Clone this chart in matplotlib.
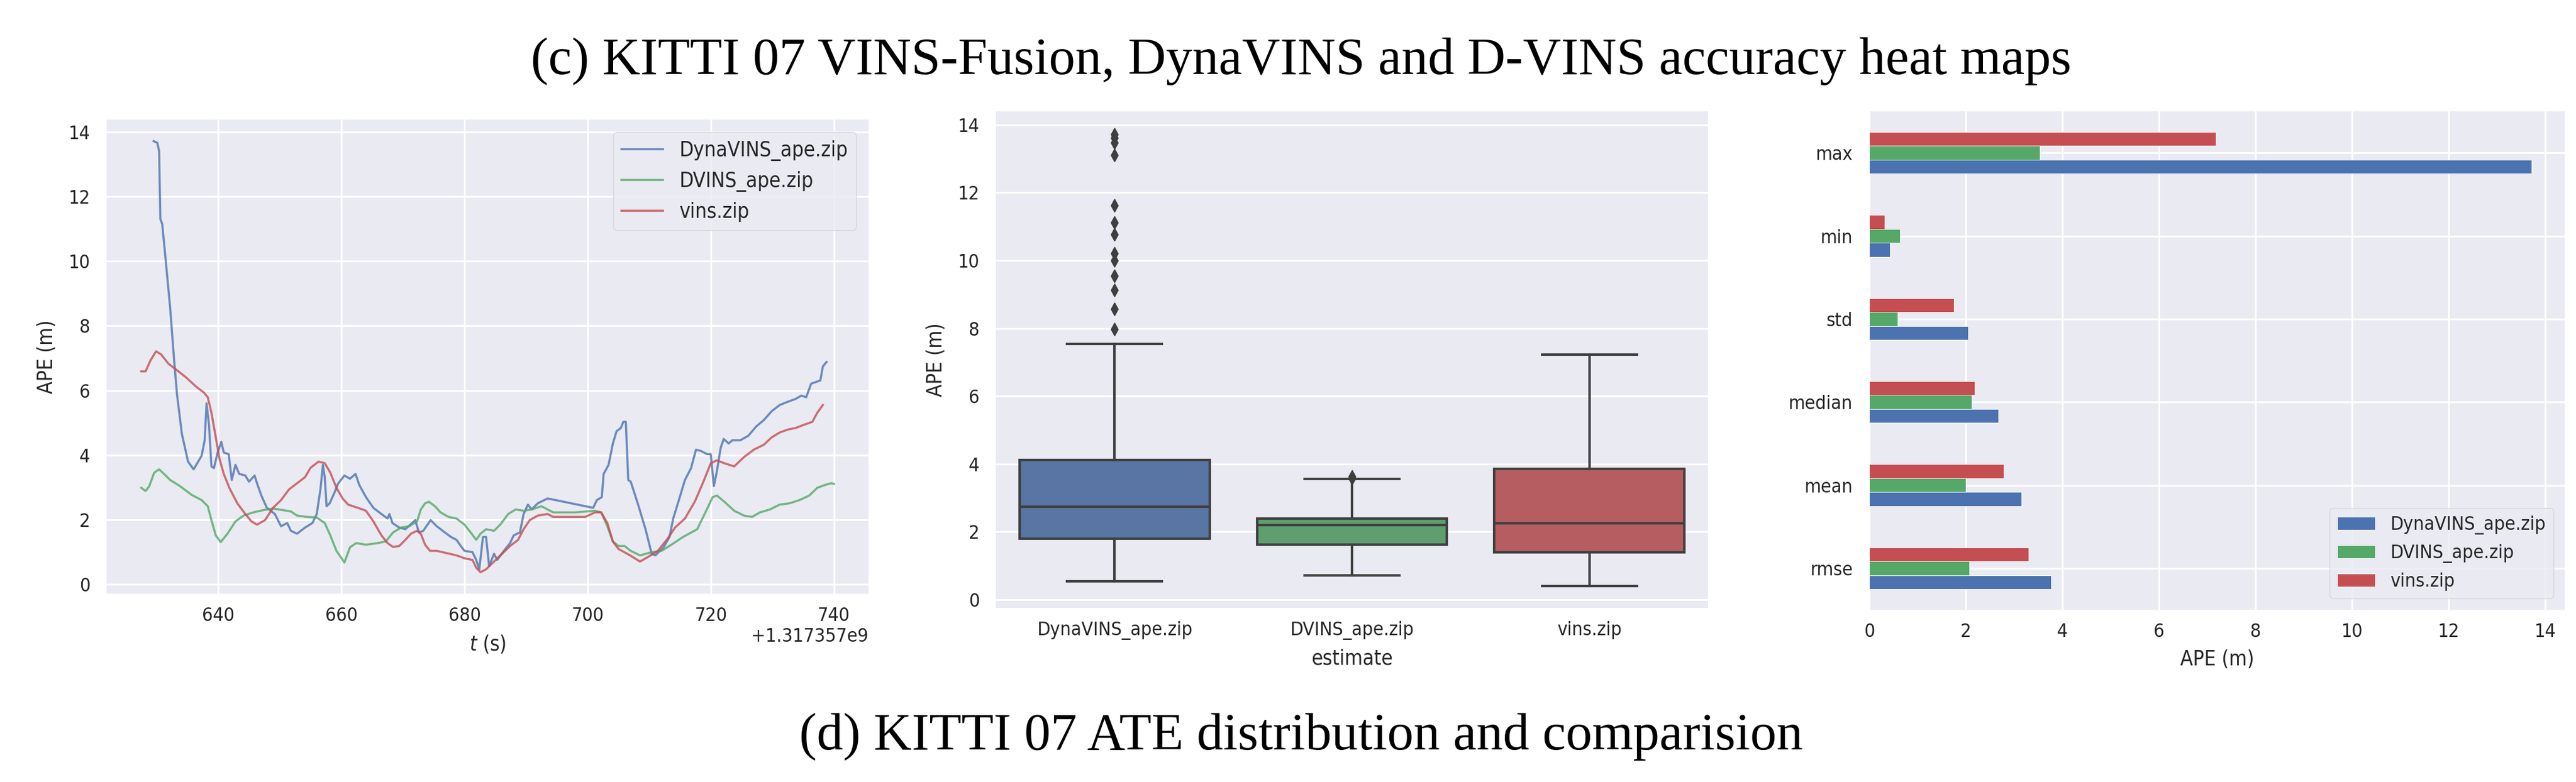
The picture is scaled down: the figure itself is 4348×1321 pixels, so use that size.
import matplotlib
matplotlib.use("Agg")
import matplotlib.pyplot as plt
import numpy as np

# ---------------- data ----------------
T0 = 1.317357e9

dynavins_ape = [
    (629.5, 13.71), (630.1, 13.66), (630.4, 13.40), (630.6, 11.30), (630.9, 11.15), (631.5, 9.96),
    (632.2, 8.54), (632.8, 7.02), (633.3, 5.88), (634.1, 4.65), (635.1, 3.80), (636.0, 3.56),
    (637.3, 3.98), (637.8, 4.46), (638.1, 5.60), (638.5, 4.93), (638.9, 3.65), (639.3, 3.60),
    (639.9, 4.08), (640.5, 4.41), (640.9, 4.08), (641.7, 4.03), (642.2, 3.23), (642.8, 3.70),
    (643.4, 3.42), (644.4, 3.37), (645.0, 3.18), (645.9, 3.37), (646.3, 3.13), (647.0, 2.75),
    (647.9, 2.37), (649.2, 2.18), (650.2, 1.80), (651.2, 1.90), (651.8, 1.66), (652.8, 1.57),
    (654.1, 1.76), (655.3, 1.90), (656.0, 2.18), (656.6, 2.94), (657.0, 3.70), (657.3, 3.32),
    (657.6, 2.42), (658.1, 2.51), (658.9, 2.85), (659.5, 3.13), (660.5, 3.37), (661.4, 3.27),
    (662.3, 3.42), (662.9, 3.08), (664.0, 2.70), (665.2, 2.37), (666.5, 2.18), (667.5, 2.04),
    (667.8, 2.18), (668.3, 1.90), (669.4, 1.76), (670.4, 1.71), (672.0, 1.99), (672.6, 1.61),
    (673.3, 1.66), (674.5, 1.99), (675.5, 1.80), (676.8, 1.61), (677.8, 1.47), (678.7, 1.38),
    (679.4, 1.19), (680.0, 1.04), (681.3, 1.00), (681.9, 0.76), (682.4, 0.47), (683.0, 1.47),
    (683.5, 1.47), (684.0, 0.57), (684.8, 0.95), (685.3, 0.76), (686.4, 1.04), (687.4, 1.28),
    (688.0, 1.52), (689.0, 1.61), (689.6, 2.18), (690.3, 2.47), (690.9, 2.32), (691.9, 2.51),
    (693.5, 2.66), (694.8, 2.61), (700.9, 2.37), (701.5, 2.61), (702.3, 2.70), (702.6, 3.42),
    (703.4, 3.70), (704.1, 4.36), (704.7, 4.74), (705.4, 4.84), (705.8, 5.03), (706.2, 5.03),
    (706.6, 3.23), (707.0, 3.18), (708.2, 2.47), (709.4, 1.71), (710.4, 0.95), (711.0, 0.90),
    (712.3, 1.14), (713.3, 1.47), (713.9, 2.04), (714.9, 2.66), (715.8, 3.23), (716.8, 3.60),
    (717.6, 4.17), (718.4, 4.13), (719.4, 4.03), (720.0, 4.03), (720.5, 3.04), (721.0, 3.51),
    (721.6, 4.22), (722.1, 4.50), (722.9, 4.36), (723.5, 4.46), (724.8, 4.46), (726.1, 4.60),
    (727.4, 4.89), (728.6, 5.08), (729.9, 5.36), (731.2, 5.55), (732.5, 5.65), (733.8, 5.74),
    (734.7, 5.84), (735.5, 5.79), (736.3, 6.21), (737.8, 6.31), (738.2, 6.74), (738.8, 6.88),
]

dvins_ape = [
    (627.5, 2.99), (628.2, 2.89), (628.8, 3.04), (629.6, 3.46), (630.4, 3.56), (631.2, 3.42),
    (632.2, 3.23), (633.8, 3.04), (635.7, 2.77), (637.3, 2.61), (638.3, 2.42), (638.9, 1.99),
    (639.6, 1.52), (640.4, 1.31), (641.5, 1.57), (642.8, 1.95), (644.1, 2.13), (645.7, 2.23),
    (647.3, 2.30), (648.9, 2.35), (650.5, 2.30), (651.8, 2.26), (652.8, 2.13), (654.4, 2.09),
    (656.0, 2.07), (657.3, 1.90), (658.2, 1.52), (659.2, 1.04), (660.5, 0.68), (661.4, 1.15),
    (662.4, 1.28), (664.0, 1.23), (665.9, 1.28), (667.2, 1.33), (668.4, 1.61), (669.7, 1.76),
    (671.0, 1.80), (672.3, 1.95), (672.9, 2.32), (673.6, 2.51), (674.2, 2.56), (675.2, 2.42),
    (676.1, 2.23), (677.4, 2.09), (678.7, 2.04), (680.0, 1.85), (681.0, 1.61), (681.9, 1.38),
    (682.6, 1.57), (683.5, 1.71), (684.8, 1.66), (685.8, 1.85), (687.1, 2.18), (688.3, 2.32),
    (689.6, 2.28), (690.9, 2.32), (692.5, 2.42), (693.5, 2.32), (694.4, 2.23), (698.0, 2.23),
    (701.2, 2.28), (702.2, 2.23), (703.2, 1.80), (704.1, 1.33), (705.0, 1.19), (706.0, 1.19),
    (707.0, 1.04), (708.5, 0.90), (710.4, 1.00), (712.0, 1.04), (713.6, 1.23), (715.5, 1.47),
    (717.8, 1.71), (719.0, 2.18), (720.3, 2.70), (721.0, 2.75), (722.2, 2.56), (723.8, 2.28),
    (725.4, 2.13), (726.7, 2.09), (728.0, 2.23), (729.6, 2.32), (731.2, 2.47), (732.8, 2.51),
    (734.4, 2.61), (736.0, 2.75), (737.3, 2.99), (738.6, 3.08), (739.5, 3.13), (740.0, 3.11),
]

vins_ape = [
    (627.5, 6.59), (628.2, 6.59), (629.0, 6.93), (629.9, 7.21), (630.7, 7.12), (631.9, 6.83),
    (633.2, 6.64), (634.8, 6.40), (636.4, 6.12), (637.7, 5.93), (638.3, 5.79), (638.9, 5.31),
    (639.6, 4.55), (640.2, 3.89), (640.9, 3.42), (641.8, 2.99), (643.1, 2.51), (644.4, 2.18),
    (645.4, 1.95), (646.3, 1.85), (647.6, 1.99), (648.9, 2.37), (650.2, 2.61), (651.5, 2.94),
    (652.8, 3.13), (654.1, 3.32), (655.0, 3.61), (656.3, 3.80), (657.3, 3.75), (658.2, 3.46),
    (659.2, 2.99), (660.2, 2.66), (661.1, 2.47), (662.7, 2.37), (664.0, 2.28), (665.2, 1.95),
    (666.5, 1.52), (667.5, 1.28), (668.4, 1.16), (669.4, 1.19), (670.4, 1.38), (671.3, 1.57),
    (672.3, 1.66), (672.9, 1.57), (673.6, 1.23), (674.4, 1.04), (675.5, 1.04), (677.1, 0.97),
    (678.7, 0.90), (680.0, 0.81), (681.3, 0.76), (681.9, 0.52), (682.6, 0.38), (683.5, 0.47),
    (684.8, 0.71), (686.1, 0.95), (687.4, 1.19), (688.7, 1.38), (689.6, 1.71), (690.6, 1.99),
    (691.9, 2.13), (693.5, 2.18), (694.4, 2.09), (696.4, 2.09), (699.6, 2.09), (701.2, 2.23),
    (702.2, 2.23), (703.2, 1.90), (704.1, 1.33), (705.0, 1.10), (706.9, 0.90), (708.5, 0.71),
    (709.8, 0.85), (711.4, 1.04), (713.0, 1.42), (714.2, 1.76), (715.8, 2.04), (717.4, 2.56),
    (718.7, 3.13), (720.0, 3.75), (721.0, 3.84), (722.2, 3.75), (723.8, 3.65), (725.4, 3.94),
    (727.0, 4.17), (728.6, 4.32), (729.9, 4.55), (731.2, 4.70), (732.5, 4.79), (733.8, 4.84),
    (735.0, 4.93), (736.5, 5.03), (737.3, 5.31), (738.2, 5.55),
]

series_names = ["DynaVINS_ape.zip", "DVINS_ape.zip", "vins.zip"]

# boxplot statistics (panel 2)
box_whislo = [0.53, 0.71, 0.39]
box_q1 = [1.79, 1.61, 1.40]
box_med = [2.73, 2.20, 2.25]
box_q3 = [4.11, 2.39, 3.86]
box_whishi = [7.54, 3.55, 7.22]
box_fliers = [
    [7.98, 8.57, 9.13, 9.55, 10.00, 10.21, 10.76, 11.11, 11.62, 13.10, 13.47, 13.61, 13.72],
    [3.58, 3.63],
    [],
]

# statistics bar chart (panel 3)
stat_names = ["rmse", "mean", "median", "std", "min", "max"]
stat_dynavins = [3.77, 3.15, 2.67, 2.05, 0.43, 13.72]
stat_dvins = [2.07, 2.00, 2.12, 0.59, 0.64, 3.53]
stat_vins = [3.30, 2.79, 2.18, 1.75, 0.32, 7.18]

title_top = "(c) KITTI 07 VINS-Fusion, DynaVINS and D-VINS accuracy heat maps"
title_bottom = "(d) KITTI 07 ATE distribution and comparision"

# ---------------- style ----------------
line_colors = ["#4c72b0", "#55a868", "#c44e52"]
box_colors = ["#5875a4", "#5f9e6e", "#b55d60"]
box_line = "#3f3f3f"

TICK = 23
LABEL = 25
LEG = 23

plt.rcParams.update({
    "font.family": ["DejaVu Sans"],
    "font.stretch": "condensed",
    "axes.facecolor": "#EAEAF2",
    "axes.edgecolor": "white",
    "axes.grid": True,
    "grid.color": "white",
    "grid.linewidth": 2.2,
    "axes.axisbelow": True,
    "xtick.major.size": 0,
    "ytick.major.size": 0,
    "xtick.major.pad": 16,
    "ytick.major.pad": 20,
    "xtick.labelsize": TICK,
    "ytick.labelsize": TICK,
    "xtick.color": "#262626",
    "ytick.color": "#262626",
    "axes.labelcolor": "#262626",
    "text.color": "#262626",
    "axes.labelsize": LABEL,
    "legend.fontsize": LEG,
    "axes.spines.left": False,
    "axes.spines.right": False,
    "axes.spines.top": False,
    "axes.spines.bottom": False,
})

W, H = 4348, 1321
fig = plt.figure(figsize=(W / 100, H / 100), dpi=100)
fig.patch.set_facecolor("white")


def px_axes(x0, y0, x1, y1):
    return fig.add_axes([x0 / W, 1 - y1 / H, (x1 - x0) / W, (y1 - y0) / H])


# ---------------- panel 1: time series ----------------
ax1 = px_axes(180, 202, 1466, 1003)
for data, name, col in zip([dynavins_ape, dvins_ape, vins_ape], series_names, line_colors):
    arr = np.array(data)
    ax1.plot(arr[:, 0] + T0, arr[:, 1], color=col, lw=2.6, alpha=0.8, label=name)
ax1.set_xlabel("$t$ (s)", labelpad=10)
ax1.set_ylabel("APE (m)", labelpad=14)
ax1.xaxis.get_offset_text().set_fontsize(TICK)
leg1 = ax1.legend(loc="upper right", frameon=True, borderaxespad=0.6, fontsize=25)
leg1.get_frame().set_edgecolor("0.82")

# ---------------- panel 2: boxplot ----------------
ax2 = px_axes(1681, 188, 2883, 1027)
stats = []
for i, name in enumerate(series_names):
    stats.append({
        "label": name,
        "whislo": box_whislo[i], "q1": box_q1[i], "med": box_med[i],
        "q3": box_q3[i], "whishi": box_whishi[i], "fliers": box_fliers[i],
    })
bp = ax2.bxp(stats, positions=range(len(series_names)), widths=0.8, patch_artist=True,
             boxprops=dict(edgecolor=box_line, linewidth=3),
             medianprops=dict(color=box_line, linewidth=3),
             whiskerprops=dict(color=box_line, linewidth=3),
             capprops=dict(color=box_line, linewidth=3),
             flierprops=dict(marker="d", markerfacecolor=box_line, markeredgecolor=box_line,
                             markersize=11, linestyle="none"))
for patch, col in zip(bp["boxes"], box_colors):
    patch.set_facecolor(col)
ax2.set_xlim(-0.5, len(series_names) - 0.5)
ax2.set_ylim(-0.25, 14.4)
ax2.xaxis.grid(False)
ax2.set_xlabel("estimate", labelpad=10)
ax2.set_ylabel("APE (m)", labelpad=14)

# ---------------- panel 3: grouped horizontal bars ----------------
ax3 = px_axes(3155, 188, 4329, 1030)
ypos = np.arange(len(stat_names))
total_h = 0.5
h = total_h / 3
for j, (vals, name, col) in enumerate(zip([stat_dynavins, stat_dvins, stat_vins], series_names, line_colors)):
    ax3.barh(ypos - total_h / 2 + h / 2 + j * h, vals, height=h, color=col,
             edgecolor="white", linewidth=0.6, label=name)
ax3.set_yticks(ypos)
ax3.set_yticklabels(stat_names)
ax3.set_ylim(-0.5, len(stat_names) - 0.5)
ax3.set_xlabel("APE (m)", labelpad=10)
leg3 = ax3.legend(loc="lower right", frameon=True, borderaxespad=0.6)
leg3.get_frame().set_edgecolor("0.82")

# ---------------- captions ----------------
fig.text(0.505, 1 - 125 / H, title_top, ha="center", va="baseline",
         family="Liberation Serif", fontsize=64, color="black", fontstretch="normal")
fig.text(0.505, 1 - 1266 / H, title_bottom, ha="center", va="baseline",
         family="Liberation Serif", fontsize=64, color="black", fontstretch="normal")

fig.savefig("out.png", dpi=100, facecolor="white")
